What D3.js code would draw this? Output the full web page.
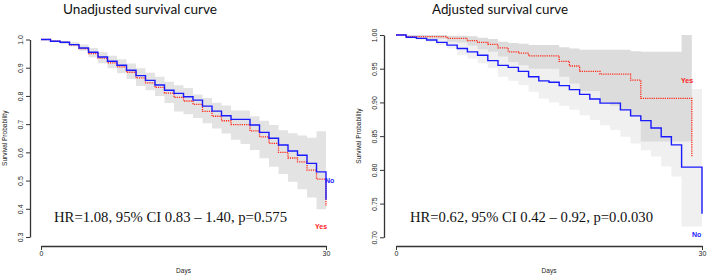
<!DOCTYPE html>
<html>
<head>
<meta charset="utf-8">
<script src="https://cdn.jsdelivr.net/npm/d3@7"></script>
<style>
  body { margin: 0; background: #fff; }
  svg { display: block; }
  .tick text { font-family: "Liberation Sans", Arial, sans-serif; font-size: 7px; fill: #222; }
  .small-label { font-family: "Liberation Sans", Arial, sans-serif; font-size: 6.5px; fill: #222; }
  .title { font-family: Lato, "Open Sans", sans-serif; font-size: 14px; fill: #111; }
  .hr-text { font-family: "Liberation Serif", "Times New Roman", serif; font-size: 15px; fill: #111; }
  .grp-label { font-family: "Liberation Sans", Arial, sans-serif; font-size: 7px; font-weight: bold; }
</style>
</head>
<body>
<div id="chart-area"></div>
<script>
// Survival estimates, one value per day (step starts at that day)

// Unadjusted panel
let unadjNo = [1.0, 0.994, 0.99, 0.982, 0.970, 0.955, 0.938, 0.923, 0.909, 0.891,
    0.872, 0.855, 0.839, 0.820, 0.809, 0.797, 0.785, 0.764, 0.746, 0.730,
    0.717, 0.717, 0.697, 0.671, 0.650, 0.626, 0.605, 0.590, 0.561, 0.531];
let unadjNoEnd = 0.432;
let unadjYes = [1.0, 0.994, 0.99, 0.981, 0.968, 0.950, 0.934, 0.917, 0.903, 0.884,
    0.864, 0.846, 0.830, 0.810, 0.795, 0.782, 0.770, 0.745, 0.728, 0.712,
    0.698, 0.698, 0.676, 0.655, 0.632, 0.600, 0.580, 0.566, 0.537, 0.505];
let unadjYesEnd = 0.41;
let unadjUpper = [1.0, 0.998, 0.995, 0.99, 0.982, 0.970, 0.955, 0.942, 0.930, 0.915,
    0.898, 0.882, 0.868, 0.850, 0.838, 0.828, 0.805, 0.793, 0.776, 0.766,
    0.748, 0.748, 0.728, 0.712, 0.697, 0.678, 0.668, 0.660, 0.652, 0.675];
let unadjLower = [1.0, 0.99, 0.984, 0.975, 0.960, 0.937, 0.916, 0.898, 0.880, 0.860,
    0.835, 0.820, 0.800, 0.775, 0.745, 0.735, 0.722, 0.703, 0.685, 0.667,
    0.645, 0.630, 0.608, 0.579, 0.549, 0.523, 0.496, 0.469, 0.440, 0.398];

// Adjusted panel
let adjNo = [1.0, 0.9966, 0.995, 0.9926, 0.989, 0.985, 0.980, 0.975, 0.970, 0.962,
    0.955, 0.952, 0.946, 0.938, 0.932, 0.930, 0.925, 0.919, 0.912, 0.905,
    0.899, 0.899, 0.889, 0.880, 0.873, 0.862, 0.849, 0.837, 0.804, 0.804];
let adjNoEnd = 0.735;
let adjYes = [1.0, 0.9975, 0.9975, 0.9975, 0.9975, 0.995, 0.995, 0.9916, 0.989, 0.986,
    0.981, 0.975, 0.973, 0.969, 0.969, 0.969, 0.961, 0.954, 0.946, 0.946,
    0.942, 0.942, 0.942, 0.933, 0.906, 0.906, 0.906, 0.906, 0.906];
let adjYesEnd = 0.82;
let adjNoUpper = [1.0, 1.0, 0.999, 0.998, 0.997, 0.995, 0.992, 0.990, 0.987, 0.984,
    0.980, 0.977, 0.973, 0.969, 0.965, 0.964, 0.960, 0.956, 0.952, 0.947,
    0.943, 0.940, 0.937, 0.932, 0.927, 0.920, 0.912, 0.905, 0.920, 0.920];
let adjNoLower = [1.0, 0.997, 0.993, 0.99, 0.985, 0.980, 0.970, 0.965, 0.958, 0.951,
    0.938, 0.932, 0.926, 0.916, 0.906, 0.900, 0.895, 0.889, 0.881, 0.874,
    0.866, 0.859, 0.849, 0.839, 0.829, 0.820, 0.805, 0.790, 0.716, 0.716];
let adjYesUpper = [1.0, 1.0, 1.0, 1.0, 1.0, 0.999, 0.999, 0.998, 0.996, 0.994,
    0.990, 0.988, 0.987, 0.985, 0.985, 0.985, 0.982, 0.980, 0.978, 0.978,
    0.978, 0.978, 0.978, 0.976, 0.975, 0.975, 0.975, 0.975, 1.0];
let adjYesLower = [1.0, 0.995, 0.994, 0.994, 0.994, 0.99, 0.989, 0.984, 0.979, 0.975,
    0.968, 0.960, 0.955, 0.950, 0.950, 0.950, 0.938, 0.928, 0.917, 0.917,
    0.900, 0.895, 0.889, 0.879, 0.842, 0.842, 0.842, 0.842, 0.842];

let unadjTicks = [0.3, 0.4, 0.5, 0.6, 0.7, 0.8, 0.9, 1.0];
let adjTicks = [0.70, 0.75, 0.80, 0.85, 0.90, 0.95, 1.00];
let dayTicks = [0, 30];

let svg = d3.select("#chart-area").append("svg")
    .attr("width", 707)
    .attr("height", 279);

// turn a daily step series into points, closing it at the last day
function stepPoints(values, endValue) {
    let pts = values.map((v, i) => [i, v]);
    pts.push([values.length, values[values.length - 1]]);
    if (endValue !== undefined) pts.push([values.length, endValue]);
    return pts;
}

function bandPoints(upper, lower) {
    let pts = upper.map((u, i) => [i, u, lower[i]]);
    pts.push([upper.length, upper[upper.length - 1], lower[lower.length - 1]]);
    return pts;
}

function drawPanel(p) {
    let g = svg.append("g");

    let x = d3.scaleLinear().domain([0, 30]).range(p.xRange);
    let y = d3.scaleLinear().domain(p.yDomain).range(p.yRange);

    // confidence bands
    p.bands.forEach(b => {
        g.append("path")
            .datum(bandPoints(b.upper, b.lower))
            .attr("fill", b.color)
            .attr("d", d3.area()
                .x(d => x(d[0]))
                .y0(d => y(d[2]))
                .y1(d => y(d[1]))
                .curve(d3.curveStepAfter));
    });

    // survival curves
    p.lines.forEach(l => {
        g.append("path")
            .datum(stepPoints(l.values, l.end))
            .attr("fill", "none")
            .attr("stroke", l.color)
            .attr("stroke-width", l.width)
            .attr("stroke-dasharray", l.dash)
            .attr("d", d3.line()
                .x(d => x(d[0]))
                .y(d => y(d[1]))
                .curve(d3.curveStepAfter));
    });

    // y axis
    let yAxis = g.append("g")
        .attr("transform", "translate(" + p.xAxisLeft + ",0)")
        .call(d3.axisLeft(y).tickValues(p.yTicks).tickFormat(d3.format(p.yFormat))
            .tickSize(4).tickSizeOuter(0));
    yAxis.select(".domain").attr("stroke", "#333").attr("stroke-width", 1.3);
    yAxis.selectAll(".tick line").attr("stroke", "#333");
    yAxis.selectAll(".tick text")
        .attr("x", 0).attr("dy", 0)
        .attr("text-anchor", "middle")
        .attr("transform", "translate(-7,0) rotate(-90)");

    // x axis
    let xAxis = g.append("g")
        .attr("transform", "translate(0," + p.xAxisY + ")")
        .call(d3.axisBottom(x).tickValues(dayTicks).tickSize(4).tickSizeOuter(0).tickPadding(1));
    xAxis.select(".domain").attr("stroke", "#333").attr("stroke-width", 1.3);
    xAxis.selectAll(".tick line").attr("stroke", "#333");

    // axis labels
    g.append("text")
        .attr("class", "small-label")
        .attr("x", (p.xRange[0] + p.xRange[1]) / 2)
        .attr("y", 273)
        .attr("text-anchor", "middle")
        .text("Days");

    g.append("text")
        .attr("class", "small-label")
        .attr("text-anchor", "middle")
        .attr("transform", "translate(" + p.yLabelX + "," + (p.yRange[0] + p.yRange[1]) / 2 + ") rotate(-90)")
        .text("Survival Probability");

    // title
    g.append("text")
        .attr("class", "title")
        .attr("x", p.titleX)
        .attr("y", 14)
        .attr("textLength", p.titleWidth)
        .attr("lengthAdjust", "spacingAndGlyphs")
        .text(p.title);

    // hazard ratio note
    g.append("text")
        .attr("class", "hr-text")
        .attr("x", p.hrX)
        .attr("y", 221.5)
        .attr("textLength", p.hrWidth)
        .attr("lengthAdjust", "spacingAndGlyphs")
        .text(p.hr);

    // group labels
    p.labels.forEach(l => {
        g.append("text")
            .attr("class", "grp-label")
            .attr("x", l.x)
            .attr("y", l.y)
            .attr("fill", l.color)
            .text(l.text);
    });
}

drawPanel({
    xRange: [41, 326],
    yDomain: [0.3, 1.0],
    yRange: [237, 39.5],
    yTicks: unadjTicks,
    yFormat: ".1f",
    xAxisLeft: 30,
    xAxisY: 246,
    yLabelX: 7,
    title: "Unadjusted survival curve",
    titleX: 63,
    titleWidth: 154,
    hr: "HR=1.08, 95% CI 0.83 \u2013 1.40, p=0.575",
    hrX: 54,
    hrWidth: 233,
    bands: [{upper: unadjUpper, lower: unadjLower, color: "#e3e3e3"}],
    lines: [
        {values: unadjYes, end: unadjYesEnd, color: "#ff2a1a", width: 1.3, dash: "1.2,1"},
        {values: unadjNo, end: unadjNoEnd, color: "#1a1aff", width: 1.4, dash: null}
    ],
    labels: [
        {text: "No", x: 325, y: 182.5, color: "#1a1aff"},
        {text: "Yes", x: 315, y: 229, color: "#ff1a1a"}
    ]
});

drawPanel({
    xRange: [396, 702],
    yDomain: [0.7, 1.0],
    yRange: [237.3, 35],
    yTicks: adjTicks,
    yFormat: ".2f",
    xAxisLeft: 384,
    xAxisY: 246,
    yLabelX: 361,
    title: "Adjusted survival curve",
    titleX: 432,
    titleWidth: 136,
    hr: "HR=0.62, 95% CI 0.42 \u2013 0.92, p=0.0.030",
    hrX: 410,
    hrWidth: 243,
    bands: [
        {upper: adjNoUpper, lower: adjNoLower, color: "#f0f0f0"},
        {upper: adjYesUpper, lower: adjYesLower, color: "#dcdcdc"}
    ],
    lines: [
        {values: adjYes, end: adjYesEnd, color: "#ff2a1a", width: 1.3, dash: "1.2,1"},
        {values: adjNo, end: adjNoEnd, color: "#1a1aff", width: 1.4, dash: null}
    ],
    labels: [
        {text: "Yes", x: 681, y: 82.5, color: "#ff1a1a"},
        {text: "No", x: 692, y: 236.5, color: "#1a1aff"}
    ]
});
</script>
</body>
</html>
